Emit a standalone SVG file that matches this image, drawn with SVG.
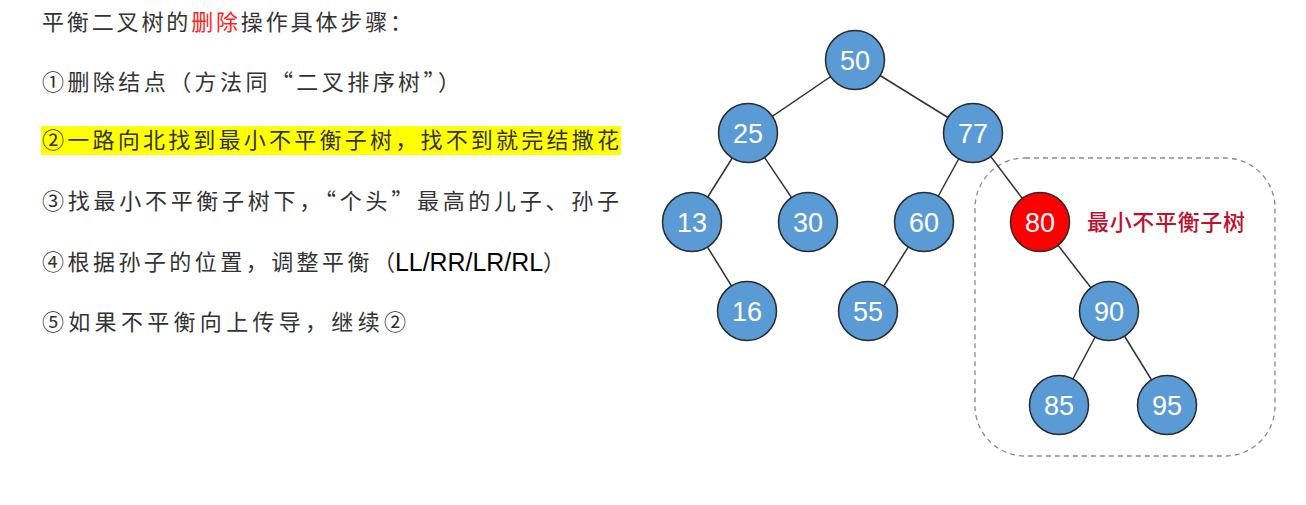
<svg xmlns="http://www.w3.org/2000/svg" width="1306" height="505" viewBox="0 0 1306 505">
  <style>
    .t { font-family: "Noto Sans CJK SC", "Liberation Sans", sans-serif; font-size: 22px; fill: #333333; }
    .q { font-feature-settings: "fwid" 1; }
    .lat { font-family: "Liberation Sans", Arial, sans-serif; font-size: 25px; fill: #000000; }
    .node circle { fill: #5b9bd5; stroke: #2a2a2a; stroke-width: 1.5; }
    .node.red circle { fill: #ff0000; }
    .node text { font-family: "Liberation Sans", Arial, sans-serif; font-size: 27px; fill: #ffffff; text-anchor: middle; }
    .edges line { stroke: #333333; stroke-width: 1.5; }
    .lbl { font-family: "Noto Sans CJK SC", sans-serif; font-size: 22px; font-weight: 500; fill: #c0102e; }
  </style>
  <rect width="1306" height="505" fill="#ffffff"/>

  <g id="text-panel">
    <text class="t" x="42" y="30" textLength="370" lengthAdjust="spacing">平衡二叉树的<tspan fill="#ff2020">删除</tspan>操作具体步骤：</text>
    <text class="t" x="42" y="90" textLength="418" lengthAdjust="spacing">①删除结点（方法同<tspan class="q">“</tspan>二叉排序树<tspan class="q">”</tspan>）</text>
    <rect x="41" y="126" width="580" height="29" fill="#ffff00"/>
    <text class="t" x="42" y="148" textLength="577" lengthAdjust="spacing">②一路向北找到最小不平衡子树，找不到就完结撒花</text>
    <text class="t" x="42" y="209" textLength="577" lengthAdjust="spacing">③找最小不平衡子树下，<tspan class="q">“</tspan>个头<tspan class="q">”</tspan>最高的儿子、孙子</text>
    <text class="t" x="42" y="270" textLength="353" lengthAdjust="spacing">④根据孙子的位置，调整平衡（</text>
    <text class="lat" x="395" y="271" textLength="148" lengthAdjust="spacingAndGlyphs">LL/RR/LR/RL</text>
    <text class="t" x="543" y="270">）</text>
    <text class="t" x="42" y="330" textLength="364" lengthAdjust="spacing">⑤如果不平衡向上传导，继续②</text>
  </g>

  <g id="subtree-box">
    <rect x="975" y="158" width="300" height="298" rx="50" ry="50" fill="none" stroke="#8a8a8a" stroke-width="1.3" stroke-dasharray="5,4"/>
    <text class="lbl" x="1087" y="230" textLength="158" lengthAdjust="spacing">最小不平衡子树</text>
  </g>

  <g id="connectors" class="edges">
    <line x1="855" y1="60" x2="748" y2="133"/>
    <line x1="855" y1="60" x2="973" y2="133"/>
    <line x1="748" y1="133" x2="692" y2="222"/>
    <line x1="748" y1="133" x2="808" y2="222"/>
    <line x1="973" y1="133" x2="924" y2="222"/>
    <line x1="973" y1="133" x2="1040" y2="222"/>
    <line x1="692" y1="222" x2="747" y2="311"/>
    <line x1="924" y1="222" x2="868" y2="311"/>
    <line x1="1040" y1="222" x2="1109" y2="311"/>
    <line x1="1109" y1="311" x2="1059" y2="405"/>
    <line x1="1109" y1="311" x2="1167" y2="405"/>
  </g>

  <g id="n50" class="node"><circle cx="855" cy="60" r="29.5"/><text x="855" y="69.5">50</text></g>
  <g id="n25" class="node"><circle cx="748" cy="133" r="29.5"/><text x="748" y="142.5">25</text></g>
  <g id="n77" class="node"><circle cx="973" cy="133" r="29.5"/><text x="973" y="142.5">77</text></g>
  <g id="n13" class="node"><circle cx="692" cy="222" r="29.5"/><text x="692" y="231.5">13</text></g>
  <g id="n30" class="node"><circle cx="808" cy="222" r="29.5"/><text x="808" y="231.5">30</text></g>
  <g id="n60" class="node"><circle cx="924" cy="222" r="29.5"/><text x="924" y="231.5">60</text></g>
  <g id="n80" class="node red"><circle cx="1040" cy="222" r="29.5"/><text x="1040" y="231.5">80</text></g>
  <g id="n16" class="node"><circle cx="747" cy="311" r="29.5"/><text x="747" y="320.5">16</text></g>
  <g id="n55" class="node"><circle cx="868" cy="311" r="29.5"/><text x="868" y="320.5">55</text></g>
  <g id="n90" class="node"><circle cx="1109" cy="311" r="29.5"/><text x="1109" y="320.5">90</text></g>
  <g id="n85" class="node"><circle cx="1059" cy="405" r="29.5"/><text x="1059" y="414.5">85</text></g>
  <g id="n95" class="node"><circle cx="1167" cy="405" r="29.5"/><text x="1167" y="414.5">95</text></g>
</svg>
